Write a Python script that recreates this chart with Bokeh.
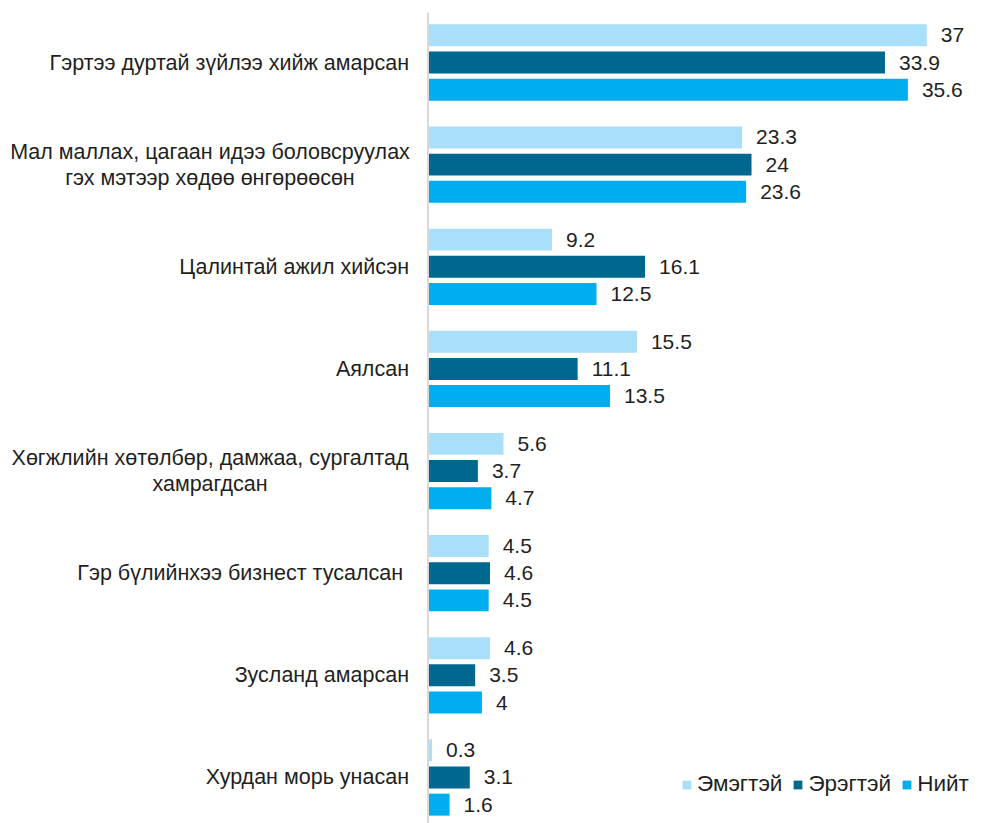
from bokeh.plotting import figure
from bokeh.models import ColumnDataSource, Range1d, Span, Legend, LegendItem
from bokeh.core.properties import value
from bokeh.embed import file_html
from bokeh.resources import INLINE

categories = [
    "Гэртээ дуртай зүйлээ хийж амарсан",
    "Мал маллах, цагаан идээ боловсруулах\nгэх мэтээр хөдөө өнгөрөөсөн",
    "Цалинтай ажил хийсэн",
    "Аялсан",
    "Хөгжлийн хөтөлбөр, дамжаа, сургалтад\nхамрагдсан",
    "Гэр бүлийнхээ бизнест тусалсан ",
    "Зусланд амарсан",
    "Хурдан морь унасан",
]
series_names = ["Эмэгтэй", "Эрэгтэй", "Нийт"]
female = [37, 23.3, 9.2, 15.5, 5.6, 4.5, 4.6, 0.3]
male = [33.9, 24, 16.1, 11.1, 3.7, 4.6, 3.5, 3.1]
total = [35.6, 23.6, 12.5, 13.5, 4.7, 4.5, 4, 1.6]
colors = ["#A9DFF9", "#00688F", "#00AEEF"]

FONT = "Liberation Sans"
FS_LAB = "21.5px"
FS_VAL = "21px"
FS_LEG = "22.5px"
TXT = "#1f1f1f"
W, H = 981, 823
TOP = 12
scale = 13.48          # px per unit
x0_px = 427.5          # axis position inside frame
pitch = 102.14         # px per category
c0_px = 62 - TOP       # first category center from frame top
label_right_px = 408.5
label_center_px = 209.5  # center of two-line labels

p = figure(width=W, height=H, output_backend="svg", toolbar_location=None,
           min_border_left=0, min_border_right=0, min_border_top=TOP, min_border_bottom=0)
p.x_range = Range1d(-x0_px / scale, (W - x0_px) / scale)
frame_h = H - TOP
p.y_range = Range1d((frame_h - c0_px) / pitch, -c0_px / pitch)
p.xaxis.visible = False
p.yaxis.visible = False
p.xgrid.visible = False
p.ygrid.visible = False
p.outline_line_color = None
p.background_fill_color = "white"
p.border_fill_color = "white"

n = len(categories)
idx = list(range(n))
offsets = [-0.266, 0.0, 0.266]
bar_h = 0.215
renderers = []
for vals, off, col in zip([female, male, total], offsets, colors):
    src = ColumnDataSource(dict(y=[i + off for i in idx], right=vals,
                                lbl=[f"{v:g}" for v in vals]))
    r = p.hbar(y="y", left=0, right="right", height=bar_h, source=src,
               fill_color=col, line_color=None)
    renderers.append(r)
    p.text(x="right", y="y", text="lbl", source=src, x_offset=14,
           text_align="left", text_baseline="middle", text_color=TXT,
           text_font=value(FONT), text_font_size=FS_VAL)

# category labels: single-line right-aligned, two-line centered
single = [(i, c) for i, c in zip(idx, categories) if "\n" not in c]
multi = [(i, c) for i, c in zip(idx, categories) if "\n" in c]
s_src = ColumnDataSource(dict(x=[(label_right_px - x0_px) / scale] * len(single),
                              y=[i for i, _ in single], t=[c for _, c in single]))
p.text(x="x", y="y", text="t", source=s_src, text_align="right",
       text_baseline="middle", text_color=TXT, text_font=value(FONT),
       text_font_size=FS_LAB)
m_src = ColumnDataSource(dict(x=[(label_center_px - x0_px) / scale] * len(multi),
                              y=[i for i, _ in multi], t=[c for _, c in multi]))
p.text(x="x", y="y", text="t", source=m_src, text_align="center",
       text_baseline="middle", text_color=TXT, text_font=value(FONT),
       text_font_size=FS_LAB, text_line_height=1.08)

p.add_layout(Span(location=0, dimension="height", line_color="#D9D9D9", line_width=2))

legend = Legend(items=[LegendItem(label=s, renderers=[r]) for s, r in zip(series_names, renderers)],
                orientation="horizontal", location=(681, 26),
                glyph_width=11, glyph_height=11, label_standoff=5, spacing=10,
                padding=0, margin=0, border_line_color=None, background_fill_alpha=0,
                label_text_font=FONT, label_text_font_size=FS_LEG, label_text_color=TXT,
                label_height=20)
p.add_layout(legend)

open("out.html", "w").write(file_html(p, INLINE))
